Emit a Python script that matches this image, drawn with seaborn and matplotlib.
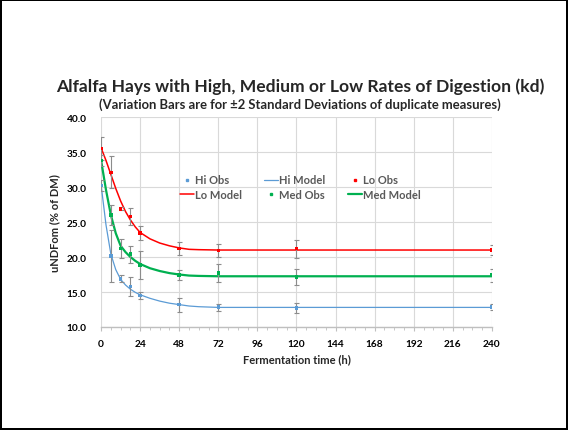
import matplotlib
matplotlib.use("Agg")
import matplotlib.pyplot as plt
import seaborn as sns
import pandas as pd
from matplotlib.ticker import MultipleLocator, FormatStrFormatter
from matplotlib.lines import Line2D

# ---- data ----
obs_time = [0, 6, 12, 18, 24, 48, 72, 120, 240]
hi_obs = [30.2, 20.1, 16.9, 15.8, 14.5, 13.2, 12.85, 12.75, 12.85]
hi_err = [0.8, 3.7, 0.5, 1.4, 0.5, 1.0, 0.5, 0.7, 0.4]
lo_obs = [35.5, 32.1, 26.9, 25.8, 23.4, 21.2, 20.95, 21.2, 21.0]
lo_err = [1.6, 2.3, 0.2, 1.2, 1.0, 0.9, 0.9, 1.3, 0.7]
med_obs = [33.8, 26.0, 21.2, 20.4, 18.9, 17.4, 17.75, 17.15, 17.4]
med_err = [0.8, 1.4, 1.4, 1.2, 2.0, 0.7, 1.3, 1.2, 0.9]

model_time = [0, 3, 6, 9, 12, 15, 18, 21, 24, 30, 36, 42, 48, 54, 60, 72, 96, 120, 240]
hi_model = [30.3, 24.6, 20.4, 18.2, 16.8, 16.0, 15.4, 14.95, 14.6, 14.1, 13.7, 13.4, 13.2, 13.0, 12.9, 12.8, 12.8, 12.8, 12.8]
lo_model = [35.6, 33.8, 31.8, 29.8, 28.0, 26.5, 25.3, 24.3, 23.5, 22.6, 22.0, 21.6, 21.3, 21.1, 21.05, 21.0, 21.0, 21.0, 21.0]
med_model = [33.8, 29.6, 26.0, 23.4, 21.6, 20.7, 20.0, 19.45, 19.0, 18.4, 18.0, 17.7, 17.5, 17.35, 17.3, 17.25, 17.25, 17.25, 17.25]

colors = {"Hi": "#5B9BD5", "Lo": "#FF0000", "Med": "#00B050"}
widths = {"Hi": 0.9, "Lo": 1.1, "Med": 1.6}
gray = "#595959"

sns.set_style("white")
plt.rcParams["font.family"] = ["Lato", "DejaVu Sans"]
plt.rcParams["font.weight"] = "bold"

fig = plt.figure(figsize=(5.68, 4.31), dpi=100)
fig.patch.set_edgecolor("black")
fig.patch.set_linewidth(1.5)
ax = fig.add_axes([0.178, 0.239, 0.688, 0.487])

obs = {"Hi": (hi_obs, hi_err), "Lo": (lo_obs, lo_err), "Med": (med_obs, med_err)}
models = {"Hi": hi_model, "Lo": lo_model, "Med": med_model}

for k in ["Hi", "Lo", "Med"]:
    df = pd.DataFrame({"t": model_time, "v": models[k]})
    sns.lineplot(data=df, x="t", y="v", ax=ax, color=colors[k], lw=widths[k], zorder=3)
for k in ["Hi", "Lo", "Med"]:
    vals, errs = obs[k]
    ax.errorbar(obs_time, vals, yerr=errs, fmt="none", ecolor="#8c8c8c", elinewidth=0.8,
                capsize=1.8, capthick=0.8, zorder=4)
    df = pd.DataFrame({"t": obs_time, "v": vals})
    sns.scatterplot(data=df, x="t", y="v", ax=ax, color=colors[k], marker="s", s=7,
                    edgecolor="none", linewidth=0, zorder=5)

ax.set_xlim(0, 240)
ax.set_ylim(10, 40)
ax.xaxis.set_major_locator(MultipleLocator(24))
ax.xaxis.set_minor_locator(MultipleLocator(6))
ax.yaxis.set_major_locator(MultipleLocator(5))
ax.yaxis.set_major_formatter(FormatStrFormatter("%.1f"))
ax.grid(True, which="major", color="#d9d9d9", lw=0.8)
ax.set_axisbelow(True)
for s in ["top", "right", "left"]:
    ax.spines[s].set_visible(False)
ax.spines["bottom"].set_color("#bfbfbf")
ax.spines["bottom"].set_linewidth(1.0)
ax.tick_params(axis="x", which="both", direction="out", bottom=True, color="#bfbfbf",
               labelsize=7.3, labelcolor="#000000", pad=6)
ax.tick_params(axis="x", which="major", length=3)
ax.tick_params(axis="x", which="minor", length=2)
ax.tick_params(axis="y", left=False, labelsize=7.3, labelcolor="#000000", pad=7)
for lab in ax.get_xticklabels() + ax.get_yticklabels():
    lab.set_fontweight("bold")
ax.set_xlabel("Fermentation time (h)", fontsize=8, fontweight="bold")
ax.set_ylabel("uNDFom (% of DM)", fontsize=8, fontweight="bold")
ax.xaxis.set_label_coords(0.5, -0.125)
ax.yaxis.set_label_coords(-0.105, 0.5)

handles = [
    Line2D([], [], ls="none", marker="s", ms=1.8, color=colors["Hi"]),
    Line2D([], [], color=colors["Lo"], lw=1.1),
    Line2D([], [], color=colors["Hi"], lw=0.9),
    Line2D([], [], ls="none", marker="s", ms=1.8, color=colors["Med"]),
    Line2D([], [], ls="none", marker="s", ms=1.8, color=colors["Lo"]),
    Line2D([], [], color=colors["Med"], lw=1.6),
]
labels = ["Hi Obs", "Lo Model", "Hi Model", "Med Obs", "Lo Obs", "Med Model"]
leg = ax.legend(handles, labels, ncol=3, loc="center", bbox_to_anchor=(0.51, 0.665),
                frameon=False, fontsize=8, handlelength=1.25, handletextpad=0.1,
                columnspacing=2.0, labelspacing=0.35, labelcolor=gray)
for t in leg.get_texts():
    t.set_fontweight("bold")

fig.text(0.528, 0.798, "Alfalfa Hays with High, Medium or Low Rates of Digestion (kd)",
         ha="center", va="center", fontsize=12.6, fontweight="bold")
fig.text(0.528, 0.758, "(Variation Bars are for \u00b12 Standard Deviations of duplicate measures)",
         ha="center", va="center", fontsize=9.4, fontweight="bold")

fig.savefig("out.png", dpi=100, edgecolor=fig.get_edgecolor())
